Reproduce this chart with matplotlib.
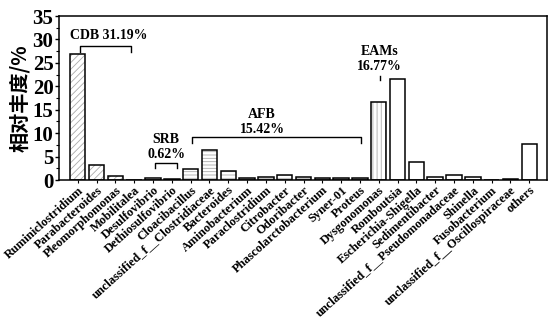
import numpy as np
import matplotlib.pyplot as plt
from matplotlib.ticker import MultipleLocator

# genres et abondances relatives (%)
genres = ['Ruminiclostridium', 'Parabacteroides', 'Pleomorphomonas', 'Mobilitalea',
          'Desulfovibrio', 'Dethiosulfovibrio', 'Cloacibacillus',
          'unclassified_f__Clostridiaceae', 'Bacteroides', 'Aminobacterium',
          'Paraclostridium', 'Citrobacter', 'Odoribacter', 'Phascolarctobacterium',
          'Syner-01', 'Proteus', 'Dysgonomonas', 'Romboutsia', 'Escherichia-Shigella',
          'Sedimentibacter', 'unclassified_f__Pseudomonadaceae', 'Shinella',
          'Fusobacterium', 'unclassified_f__Oscillospiraceae', 'others']
abondance = [26.9, 3.2, 0.85, 0.05, 0.5, 0.12, 2.4, 6.5, 1.95, 0.35,
             0.6, 1.1, 0.7, 0.35, 0.35, 0.4, 16.7, 21.5, 3.8, 0.55,
             1.1, 0.7, 0.1, 0.2, 7.7]
hachures = ['/////', '/////', '/////', '', '', '', '-----', '-----', '-----', '-----',
            '-----', '-----', '-----', '-----', '-----', '-----', '||||', '', '', '',
            '', '', '', '', '']

serif = 'Liberation Serif'
plt.rcParams['hatch.linewidth'] = 0.6

fig = plt.figure(figsize=(5.51, 3.2), dpi=100)
ax = fig.add_axes([0.107, 0.4375, 0.886, 0.5125])

x = np.arange(len(genres))
# hachures grises, puis contour noir par-dessus
ax.bar(x, abondance, width=0.82, color='white', edgecolor='#aaaaaa',
       hatch=hachures, linewidth=0)
ax.bar(x, abondance, width=0.82, color='none', edgecolor='black', linewidth=1.1)

ax.set_xlim(-1, 24.95)
ax.set_ylim(0, 35)
ax.yaxis.set_major_locator(MultipleLocator(5))
ax.yaxis.set_minor_locator(MultipleLocator(2.5))
ax.set_xticks(x)
ax.set_xticklabels(genres, rotation=42, ha='right', rotation_mode='anchor',
                   fontfamily=serif, fontweight='bold', fontsize=9)
for lab in ax.get_yticklabels():
    lab.set_fontfamily(serif)
    lab.set_fontweight('bold')
    lab.set_fontsize(15)
ax.tick_params(axis='y', which='major', length=3, width=1, pad=1)
ax.tick_params(axis='y', which='minor', length=2, width=0.8)
ax.tick_params(axis='x', length=2, width=0.8, pad=1)
for s in ax.spines.values():
    s.set_linewidth(1.1)

ax.set_ylabel('相对丰度/%', fontfamily=['Noto Sans CJK SC', 'DejaVu Sans'],
              fontweight='bold', fontsize=14.5, labelpad=2)

def crochet(x0, x1, yh, yb):
    ax.plot([x0, x0, x1, x1], [yb, yh, yh, yb], color='black', lw=1)

txt = dict(fontfamily=serif, fontweight='bold', fontsize=10, ha='center')
crochet(0.1, 2.85, 28.6, 27.4)
ax.text(1.65, 30.0, 'CDB 31.19%', **txt)
crochet(4.1, 5.25, 3.7, 2.5)
ax.text(4.7, 8.0, 'SRB', **txt)
ax.text(4.7, 4.6, '0.62%', **txt)
crochet(6.05, 15.05, 9.2, 7.8)
ax.text(9.8, 13.2, 'AFB', **txt)
ax.text(9.8, 10.0, '15.42%', **txt)
ax.plot([16.05, 16.05], [21.3, 22.3], color='black', lw=1)
ax.text(16.05, 26.7, 'EAMs', **txt)
ax.text(16.05, 23.4, '16.77%', **txt)

fig.savefig('out.png', dpi=100)
